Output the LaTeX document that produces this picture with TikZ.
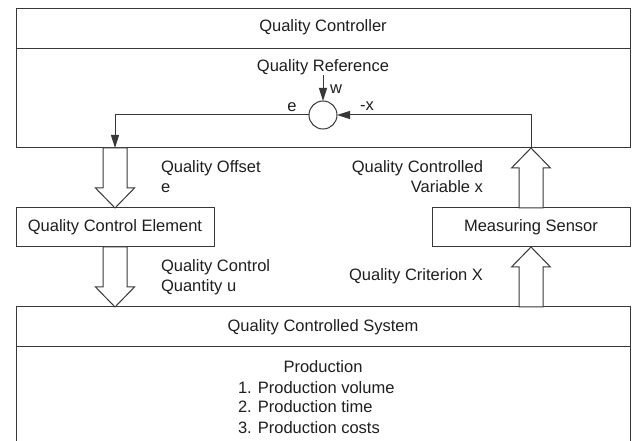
\documentclass[tikz,border=0pt]{standalone}
\usepackage{fontspec}
\setmainfont{Liberation Sans}
\usetikzlibrary{arrows.meta}

\tikzset{
  lbl/.style={inner sep=0pt, outer sep=0pt, text=black!88,
              font=\fontsize{16.5}{20}\selectfont},
  boxnode/.style={lbl, draw=black!78, line width=1pt, fill=white, rectangle},
  rule/.style={draw=black!78, line width=1pt},
  hollow/.style={draw=black!78, line width=1pt, fill=white, line join=miter},
  sig/.style={draw=black!78, line width=1pt,
              -{Triangle[length=13pt,width=8pt]}},
}

\begin{document}
\begin{tikzpicture}[x=1pt,y=-1pt]
\clip (0,0) rectangle (633,441);
\fill[white] (0,0) rectangle (633,441);

% controller block with its title band
\node[boxnode, anchor=north west, minimum width=614, minimum height=139] (ctrl) at (16,9) {};
\draw[rule] ([yshift=-40pt]ctrl.north west) -- ([yshift=-40pt]ctrl.north east);
\node[lbl, anchor=base] (ctrltitle) at (323,31.5) {Quality Controller};
\node[lbl, anchor=base] (ref) at (323,72) {Quality Reference};
\node[draw=black!78, line width=1pt, circle, minimum size=28pt, inner sep=0pt,
      outer sep=0pt, fill=white] (sum) at (323,115) {};

% actuator and sensor
\node[boxnode, minimum width=198, minimum height=39] (elem) at (115,227.5) {Quality Control Element};
\node[boxnode, minimum width=198, minimum height=39] (sensor) at (531,227.5) {Measuring Sensor};

% controlled system (runs past the lower edge)
\node[boxnode, anchor=north west, minimum width=614, minimum height=200] (sys) at (16,307) {};
\draw[rule] ([yshift=-40pt]sys.north west) -- ([yshift=-40pt]sys.north east);
\node[lbl, anchor=base] (systitle) at (323,331) {Quality Controlled System};
\node[lbl, anchor=base] (prod) at (323,373) {Production};
\node[lbl, anchor=base west] (item1) at (238,393) {1. Production volume};
\node[lbl, anchor=base west] (item2) at (238,413) {2. Production time};
\node[lbl, anchor=base west] (item3) at (238,433) {3. Production costs};

% hollow flow arrows
\draw[hollow] (elem.north) -- ++(-19.5,-20) -- ++(7.5,0) coordinate (a1)
  -- (a1 |- ctrl.south) -- ++(24,0) coordinate (b1) -- (b1 |- a1) -- ++(7.5,0) -- cycle;
\draw[hollow] (sys.north -| elem.south) -- ++(-19.5,-20) -- ++(7.5,0) coordinate (a2)
  -- (a2 |- elem.south) -- ++(24,0) coordinate (b2) -- (b2 |- a2) -- ++(7.5,0) -- cycle;
\draw[hollow] (sensor.north |- ctrl.south) -- ++(-19.5,20) -- ++(7.5,0) coordinate (a3)
  -- (a3 |- sensor.north) -- ++(24,0) coordinate (b3) -- (b3 |- a3) -- ++(7.5,0) -- cycle;
\draw[hollow] (sensor.south) -- ++(-19.5,20) -- ++(7.5,0) coordinate (a4)
  -- (a4 |- sys.north) -- ++(24,0) coordinate (b4) -- (b4 |- a4) -- ++(7.5,0) -- cycle;

% signal lines of the comparator
\draw[sig] (ref.south) -- (sum.north);
\draw[sig] (sum.west) -| (elem.north |- ctrl.south);
\draw[sig] (sensor.north |- ctrl.south) |- (sum.east);

\node[lbl] (lw) at (336,89) {w};
\node[lbl] (le) at (292,107) {e};
\node[lbl] (lx) at (367,106) {-x};

% flow labels
\node[lbl, anchor=base west] (off1) at (161,172.5) {Quality Offset};
\node[lbl, anchor=base west] (off2) at (161,193) {e};
\node[lbl, anchor=base west] (qty1) at (161,271.5) {Quality Control};
\node[lbl, anchor=base west] (qty2) at (161,291.5) {Quantity u};
\node[lbl, anchor=base east] (var1) at (483,172.5) {Quality Controlled};
\node[lbl, anchor=base east] (var2) at (483,193) {Variable x};
\node[lbl, anchor=base east] (crit) at (483,280.5) {Quality Criterion X};
\end{tikzpicture}
\end{document}
